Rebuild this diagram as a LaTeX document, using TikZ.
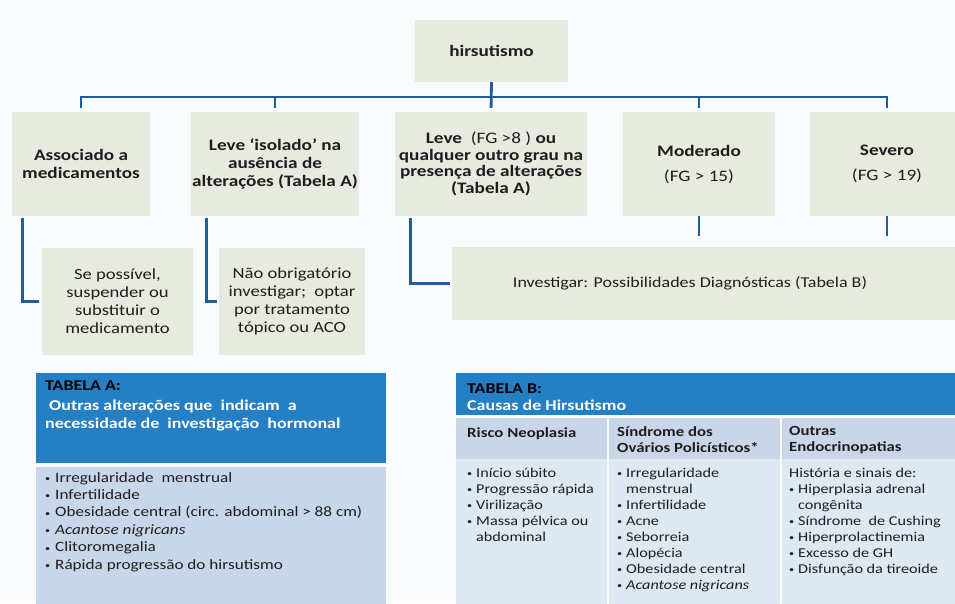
\documentclass[tikz,border=0pt]{standalone}
\usepackage{fontspec}
\setmainfont[FakeStretch=1.2]{Carlito}
\definecolor{boxc}{RGB}{231,234,222}
\definecolor{linec}{RGB}{31,93,156}
\definecolor{hdr}{RGB}{36,127,196}
\definecolor{bodyA}{RGB}{199,214,233}
\definecolor{subB}{RGB}{201,214,231}
\definecolor{bodyB}{RGB}{222,232,242}
\definecolor{bgc}{RGB}{250,251,252}
\definecolor{txt}{RGB}{30,30,30}
\newcommand\fsz[2]{\fontsize{#1}{#2}\selectfont}
\newcommand\smbul{\raisebox{0.6pt}{\fsz{8.5}{8.5}•}}
\newcommand\itmA[1]{\makebox[10pt][l]{\smbul}#1}
\newcommand\itmB[1]{\makebox[9pt][l]{\smbul}#1}
\begin{document}
\begin{tikzpicture}[x=1pt,y=-1pt,
  box/.style={fill=boxc, inner sep=0pt, align=center, text=txt},
  rowtxt/.style={font=\fsz{16}{18}\bfseries},
  subtxt/.style={font=\fsz{15.5}{18}},
  conn/.style={draw=linec, line width=2.8pt},
  thead/.style={anchor=base west, inner sep=0pt, font=\fsz{15}{18}\bfseries},
  shead/.style={anchor=base west, inner sep=0pt, font=\fsz{14}{16}\bfseries, text=txt},
  bodytxtA/.style={anchor=north west, inner sep=0pt, align=left, font=\fsz{14.3}{17.4}, text=txt},
  bodytxtB/.style={anchor=north west, inner sep=0pt, align=left, font=\fsz{13.5}{16}, text=txt}]
\useasboundingbox (0,0) rectangle (955,603);
\clip (0,0) rectangle (955,603);
\fill[bgc] (0,0) rectangle (955,603);

% top node
\node[box, rowtxt, minimum width=153pt, minimum height=62pt] (top) at (491.5,51) {hirsutismo};

% level 1
\node[box, rowtxt, minimum width=138pt, minimum height=104pt] (b1) at (81,164) {Associado a\\medicamentos};
\node[box, rowtxt, minimum width=168pt, minimum height=104pt] (b2) at (275,164) {Leve ‘isolado’ na\\ausência de\\alterações (Tabela A)};
\node[box, font=\fsz{16}{16.5}\bfseries, minimum width=192pt, minimum height=104pt] (b3) at (491,164) {Leve \ \textmd{(FG >8 )} ou\\qualquer outro grau na\\presença de alterações\\(Tabela A)};
\node[box, font=\fsz{16}{25}, minimum width=152pt, minimum height=104pt] (b4) at (699,164) {\textbf{Moderado}\\(FG > 15)};
\node[box, font=\fsz{16}{25}, minimum width=154pt, minimum height=104pt] (b5) at (887,164) {\textbf{Severo}\\(FG > 19)};

% level 2
\node[box, subtxt, minimum width=151pt, minimum height=107pt] (s1) at (117.5,301.5) {Se possível,\\suspender ou\\substituir o\\medicamento};
\node[box, subtxt, minimum width=146pt, minimum height=107pt] (s2) at (292,301.5) {Não obrigatório\\investigar; \ optar\\por tratamento\\tópico ou ACO};
\node[box, minimum width=513pt, minimum height=73pt] (inv) at (708.5,283.5) {};
\node[inner sep=0pt, font=\fsz{15}{18}, text=txt] (invt) at (690,283) {Investigar: Possibilidades Diagnósticas (Tabela B)};

% connectors
\coordinate (bus) at (0,97);
\draw[conn, shorten <=4pt, shorten >=4pt] (b1.north) -- (b1.north |- bus) -- (b5.north |- bus) -- (b5.north);
\draw[conn, shorten >=4pt] (top.south) -- (b3.north);
\draw[conn, shorten <=4pt] (b2.north) -- (b2.north |- bus);
\draw[conn, shorten <=4pt] (b4.north) -- (b4.north |- bus);
\draw[conn, shorten <=2pt, shorten >=3pt] ([xshift=11pt]b1.south west) |- (s1.west);
\draw[conn, shorten <=2pt, shorten >=2pt] ([xshift=16pt]b2.south west) |- (s2.west);
\draw[conn, shorten <=2pt, shorten >=2pt] ([xshift=16pt]b3.south west) |- (inv.west);
\draw[conn, shorten >=11pt] (b4.south) -- (b4.south |- inv.north);
\draw[conn, shorten >=11pt] (b5.south) -- (b5.south |- inv.north);

% Tabela A
\fill[hdr] (36,373) rectangle (386,463);
\fill[bodyA] (36,467) rectangle (386,610);
\node[thead, text=black] (ta1) at (45,390) {TABELA A:};
\node[thead, text=white] (ta2) at (49,410) {Outras alterações que \ indicam \ a};
\node[thead, text=white] (ta3) at (45,428) {necessidade de \ investigação \ hormonal};
\node[bodytxtA] (tab) at (45,472) {\itmA{Irregularidade \ menstrual}\\
\itmA{Infertilidade}\\
\itmA{Obesidade central (circ. abdominal > 88 cm)}\\
\itmA{\textit{Acantose nigricans}}\\
\itmA{Clitoromegalia}\\
\itmA{Rápida progressão do hirsutismo}};

% Tabela B
\fill[hdr] (456,373) rectangle (960,415);
\fill[subB] (456,418) rectangle (606.5,459);
\fill[subB] (609,418) rectangle (779.5,459);
\fill[subB] (782,418) rectangle (960,459);
\fill[bodyB] (456,459) rectangle (606.5,610);
\fill[bodyB] (609,459) rectangle (779.5,610);
\fill[bodyB] (782,459) rectangle (960,610);
\node[thead, text=black] (tb1) at (467,393) {TABELA B:};
\node[thead, text=white] (tb2) at (467,410) {Causas de Hirsutismo};
\node[shead] (c1h) at (467,437) {Risco Neoplasia};
\node[shead, anchor=north west, align=left, font=\fsz{14}{16}\bfseries] (c2h) at (617,426.5) {Síndrome dos\\Ovários Policísticos*};
\node[shead, anchor=north west, align=left, font=\fsz{14}{16}\bfseries] (c3h) at (789,426.5) {Outras\\Endocrinopatias};
\node[bodytxtB] (c1b) at (467,468) {\itmB{Início súbito}\\
\itmB{Progressão rápida}\\
\itmB{Virilização}\\
\itmB{Massa pélvica ou}\\
\hspace*{9pt}abdominal};
\node[bodytxtB] (c2b) at (617,468) {\itmB{Irregularidade}\\
\hspace*{9pt}menstrual\\
\itmB{Infertilidade}\\
\itmB{Acne}\\
\itmB{Seborreia}\\
\itmB{Alopécia}\\
\itmB{Obesidade central}\\
\itmB{\textit{Acantose nigricans}}};
\node[bodytxtB] (c3b) at (789,468) {História e sinais de:\\
\itmB{Hiperplasia adrenal}\\
\hspace*{9pt}congênita\\
\itmB{Síndrome \ de Cushing}\\
\itmB{Hiperprolactinemia}\\
\itmB{Excesso de GH}\\
\itmB{Disfunção da tireoide}};
\end{tikzpicture}
\end{document}
